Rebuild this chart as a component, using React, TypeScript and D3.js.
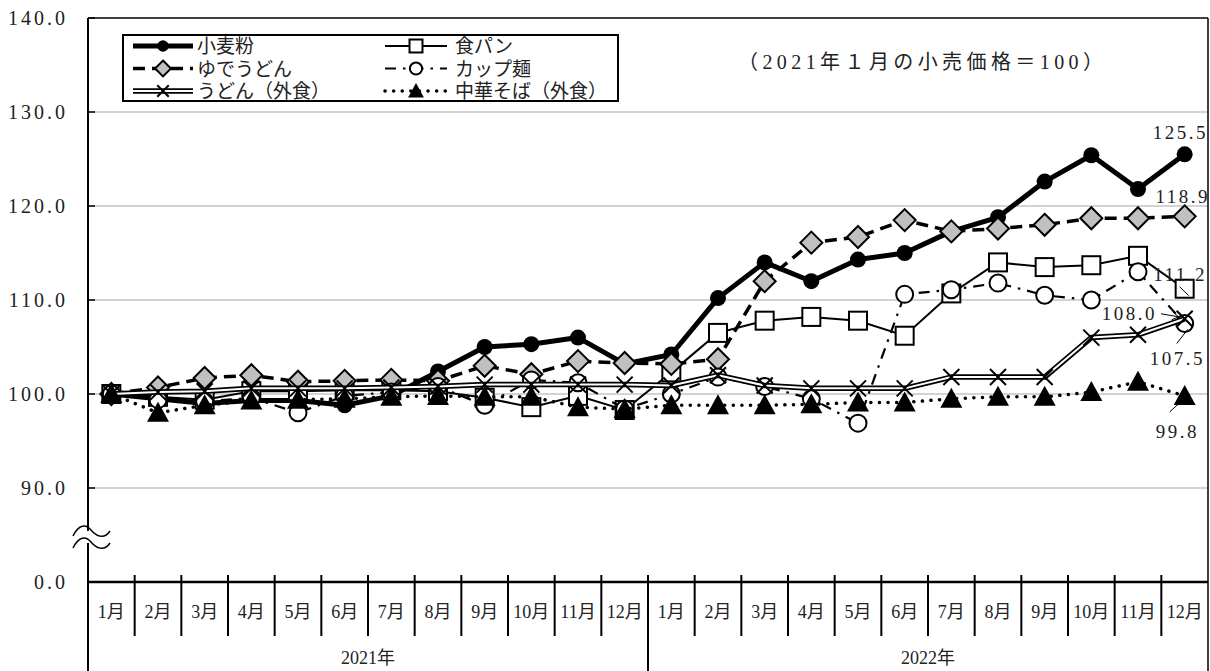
import React from "react";
import * as d3 from "d3";

// 月ラベル（2年分）と年ラベル
const monthLabels = ["1月","2月","3月","4月","5月","6月","7月","8月","9月","10月","11月","12月"];
const categories = [...monthLabels, ...monthLabels];
const yearLabels = ["2021年", "2022年"];

// 指数（2021年1月＝100）
const wheatFlour = [100.0, 99.5, 99.0, 99.3, 99.3, 98.8, 99.8, 102.4, 105.0, 105.3, 106.0, 103.2, 104.2, 110.2, 114.0, 112.0, 114.3, 115.0, 117.3, 118.8, 122.6, 125.4, 121.8, 125.5];
const bread = [100.0, 99.7, 99.4, 100.3, 100.3, 100.4, 100.4, 100.3, 99.6, 98.6, 99.8, 98.3, 102.3, 106.5, 107.8, 108.2, 107.8, 106.2, 110.7, 114.0, 113.5, 113.7, 114.7, 111.2];
const boiledUdon = [100.0, 100.7, 101.7, 102.0, 101.3, 101.4, 101.5, 101.4, 103.0, 102.1, 103.5, 103.3, 103.2, 103.7, 112.0, 116.1, 116.7, 118.5, 117.3, 117.6, 118.0, 118.7, 118.7, 118.9];
const cupNoodles = [100.0, 99.4, 99.2, 99.6, 98.0, 99.8, 100.2, 100.8, 98.8, 101.5, 101.2, 98.4, 100.0, 101.8, 100.8, 99.5, 96.9, 110.6, 111.1, 111.8, 110.5, 110.0, 113.0, 107.5];
const udonEatingOut = [100.0, 100.2, 100.3, 100.6, 100.6, 100.6, 100.7, 100.8, 101.0, 101.0, 101.0, 101.0, 100.9, 102.0, 100.9, 100.6, 100.6, 100.6, 101.8, 101.8, 101.8, 106.0, 106.3, 108.0];
const chukaSobaEatingOut = [100.0, 98.0, 98.8, 99.3, 99.4, 99.5, 99.7, 99.8, 99.7, 99.7, 98.6, 98.4, 98.8, 98.8, 98.8, 98.9, 99.1, 99.1, 99.5, 99.7, 99.7, 100.2, 101.3, 99.8];

const seriesNames = ["小麦粉", "食パン", "ゆでうどん", "カップ麺", "うどん（外食）", "中華そば（外食）"];

// 軸目盛（80 の位置に「0.0」を表示して省略を示す）
const yTicks = [140, 130, 120, 110, 100, 90];
const yBreakValue = 80;
const noteText = "（2021年１月の小売価格＝100）";

const FONT = '"Liberation Serif", "Noto Sans CJK JP", serif';

const W = 1210, H = 671;
const left = 88, right = 1208, top = 18, axisY = 582, bottom = 671;

const x = d3.scaleBand<number>().domain(d3.range(categories.length)).range([left, right]);
const bw = x.bandwidth();
const cx = (i: number) => (x(i) as number) + bw / 2;
const y = d3.scaleLinear().domain([80, 140]).range([axisY, top]);

const line = d3.line<number>().x((_, i) => cx(i)).y((v) => y(v));

type Style = {
  name: string;
  data: number[];
  marker: "circleFilled" | "square" | "diamond" | "circleOpen" | "cross" | "triangle";
};

// Excel 系列順（後の系列が上に描画される）
const series: Style[] = [
  { name: seriesNames[0], data: wheatFlour, marker: "circleFilled" },
  { name: seriesNames[1], data: bread, marker: "square" },
  { name: seriesNames[2], data: boiledUdon, marker: "diamond" },
  { name: seriesNames[3], data: cupNoodles, marker: "circleOpen" },
  { name: seriesNames[4], data: udonEatingOut, marker: "cross" },
  { name: seriesNames[5], data: chukaSobaEatingOut, marker: "triangle" },
];

function Marker({ type, px, py, k = 1 }: { type: Style["marker"]; px: number; py: number; k?: number }) {
  switch (type) {
    case "circleFilled":
      return <circle cx={px} cy={py} r={8 * k} fill="#000" />;
    case "square":
      return <rect x={px - 9 * k} y={py - 9 * k} width={18 * k} height={18 * k} fill="#fff" stroke="#000" strokeWidth={2} />;
    case "diamond":
      return (
        <path d={`M${px},${py - 11 * k}L${px + 11 * k},${py}L${px},${py + 11 * k}L${px - 11 * k},${py}Z`} fill="#c0c0c0" stroke="#000" strokeWidth={2} />
      );
    case "circleOpen":
      return <circle cx={px} cy={py} r={8.5 * k} fill="#fff" stroke="#000" strokeWidth={2} />;
    case "cross": {
      const s = 8 * k;
      return (
        <path d={`M${px - s},${py - s}L${px + s},${py + s}M${px - s},${py + s}L${px + s},${py - s}`} stroke="#000" strokeWidth={2} fill="none" />
      );
    }
    case "triangle":
      return <path d={`M${px},${py - 11 * k}L${px + 11 * k},${py + 9 * k}L${px - 11 * k},${py + 9 * k}Z`} fill="#000" />;
  }
}

function SeriesLine({ s, d }: { s: Style; d: string }) {
  switch (s.marker) {
    case "circleFilled":
      return <path d={d} fill="none" stroke="#000" strokeWidth={5} strokeLinejoin="round" />;
    case "square":
      return <path d={d} fill="none" stroke="#000" strokeWidth={2} />;
    case "diamond":
      return <path d={d} fill="none" stroke="#000" strokeWidth={3.5} strokeDasharray="12 7" />;
    case "circleOpen":
      return <path d={d} fill="none" stroke="#000" strokeWidth={2.2} strokeDasharray="11 7 2.5 7" />;
    case "cross":
      return (
        <g>
          <path d={d} fill="none" stroke="#000" strokeWidth={5.5} strokeLinejoin="round" />
          <path d={d} fill="none" stroke="#fff" strokeWidth={2} strokeLinejoin="round" />
        </g>
      );
    case "triangle":
      return <path d={d} fill="none" stroke="#000" strokeWidth={3.5} strokeDasharray="0.1 8.5" strokeLinecap="round" />;
  }
}

const fmt = (v: number) => v.toFixed(1);

export default function App() {
  const last = categories.length - 1;
  const lx = cx(last);

  const legendRows = [
    [series[0], series[1]],
    [series[2], series[3]],
    [series[4], series[5]],
  ];

  return (
    <svg width={W} height={H} style={{ position: "absolute", left: 0, top: 0, background: "#fff" }} fontFamily={FONT}>
      <rect x={0} y={0} width={W} height={H} fill="#fff" />

      {/* 目盛線 */}
      {yTicks.filter((t) => t !== 140).map((t) => (
        <line key={t} x1={left} x2={right} y1={y(t)} y2={y(t)} stroke="#c4c4c4" strokeWidth={1.5} />
      ))}

      {/* 枠と軸 */}
      <line x1={left} x2={right} y1={top} y2={top} stroke="#000" strokeWidth={1.5} />
      <line x1={right} x2={right} y1={top} y2={bottom} stroke="#000" strokeWidth={1.5} />
      <line x1={left} x2={left} y1={top} y2={bottom} stroke="#000" strokeWidth={2} />
      <line x1={left} x2={right} y1={axisY} y2={axisY} stroke="#000" strokeWidth={2.5} />

      {[...yTicks, yBreakValue].map((t) => (
        <g key={"yt" + t}>
          <line x1={left} x2={left + 7} y1={y(t)} y2={y(t)} stroke="#000" strokeWidth={1.5} />
          <text x={68} y={y(t) + 7} textAnchor="end" fontSize={20} letterSpacing={3} fill="#222">
            {t === yBreakValue ? "0.0" : fmt(t)}
          </text>
        </g>
      ))}

      {/* 軸の省略記号 */}
      <rect x={left - 4} y={531} width={8} height={12} fill="#fff" />
      <path d="M73,536 C79,524 86,524 91,530 S104,540 110,531" fill="none" stroke="#000" strokeWidth={1.5} />
      <path d="M73,548 C79,536 86,536 91,542 S104,552 110,543" fill="none" stroke="#000" strokeWidth={1.5} />

      {/* 月区切りと月ラベル */}
      {d3.range(1, categories.length).map((k) => {
        const xb = left + k * bw;
        const isYear = k % 12 === 0;
        return (
          <line key={"mt" + k} x1={xb} x2={xb} y1={axisY - 7} y2={isYear ? bottom : 636} stroke="#000" strokeWidth={2} />
        );
      })}
      {categories.map((c, i) => (
        <text key={"ml" + i} x={cx(i)} y={618} textAnchor="middle" fontSize={18} fill="#222">
          {c}
        </text>
      ))}
      {yearLabels.map((yl, j) => (
        <text key={yl} x={left + (j * 12 + 6) * bw} y={664} textAnchor="middle" fontSize={18} fill="#222">
          {yl}
        </text>
      ))}

      {/* 系列 */}
      {series.map((s) => (
        <g key={s.name}>
          <SeriesLine s={s} d={line(s.data) as string} />
          {s.data.map((v, i) => (
            <Marker key={i} type={s.marker} px={cx(i)} py={y(v)} />
          ))}
        </g>
      ))}

      {/* 最新値ラベル */}
      <text x={1208} y={y(wheatFlour[last]) - 15} textAnchor="end" fontSize={19} letterSpacing={2.5} fill="#222">{fmt(wheatFlour[last])}</text>
      <text x={1210} y={y(boiledUdon[last]) - 13} textAnchor="end" fontSize={19} letterSpacing={2.5} fill="#222">{fmt(boiledUdon[last])}</text>
      <text x={1207} y={y(bread[last]) - 8} textAnchor="end" fontSize={19} letterSpacing={2.5} fill="#222">{fmt(bread[last])}</text>
      <line x1={lx - 5} y1={y(bread[last]) - 2} x2={lx + 4} y2={y(bread[last]) + 7} stroke="#000" strokeWidth={1} />
      <text x={1157} y={y(udonEatingOut[last]) + 1} textAnchor="end" fontSize={19} letterSpacing={2.5} fill="#222">{fmt(udonEatingOut[last])}</text>
      <path d={`M1161,${y(udonEatingOut[last]) - 5}L${lx - 6},${y(udonEatingOut[last]) - 2}`} stroke="#000" strokeWidth={1} fill="none" />
      <path d={`M${lx - 12},${y(udonEatingOut[last]) - 7}L${lx - 6},${y(udonEatingOut[last]) - 2}L${lx - 13},${y(udonEatingOut[last]) + 1}`} stroke="#000" strokeWidth={1} fill="none" />
      <text x={1205} y={y(cupNoodles[last]) + 41} textAnchor="end" fontSize={19} letterSpacing={2.5} fill="#222">{fmt(cupNoodles[last])}</text>
      <line x1={lx - 8} y1={y(cupNoodles[last]) + 20} x2={lx + 3} y2={y(cupNoodles[last]) + 6} stroke="#000" strokeWidth={1} />
      <text x={1199} y={y(chukaSobaEatingOut[last]) + 42} textAnchor="end" fontSize={19} letterSpacing={2.5} fill="#222">{fmt(chukaSobaEatingOut[last])}</text>
      <line x1={lx - 15} y1={y(chukaSobaEatingOut[last]) + 16} x2={lx - 4} y2={y(chukaSobaEatingOut[last]) + 6} stroke="#000" strokeWidth={1} />

      {/* 凡例 */}
      <rect x={123} y={35} width={495} height={66} fill="#fff" stroke="#000" strokeWidth={2} />
      {legendRows.map((row, r) =>
        row.map((s, c) => {
          const ly = 46 + r * 22.5;
          const x0 = c === 0 ? 133 : 385;
          const x1 = c === 0 ? 193 : 447;
          const mx = (x0 + x1) / 2;
          const tx = c === 0 ? 197 : 455;
          return (
            <g key={s.name}>
              <SeriesLine s={s} d={`M${x0},${ly}L${x1},${ly}`} />
              <Marker type={s.marker} px={mx} py={ly} k={0.72} />
              <text x={tx} y={ly + 7} fontSize={19} fill="#222">{s.name}</text>
            </g>
          );
        })
      )}

      {/* 注記 */}
      <text x={738} y={69} fontSize={20} textLength={365} lengthAdjust="spacing" fill="#222">{noteText}</text>
    </svg>
  );
}
